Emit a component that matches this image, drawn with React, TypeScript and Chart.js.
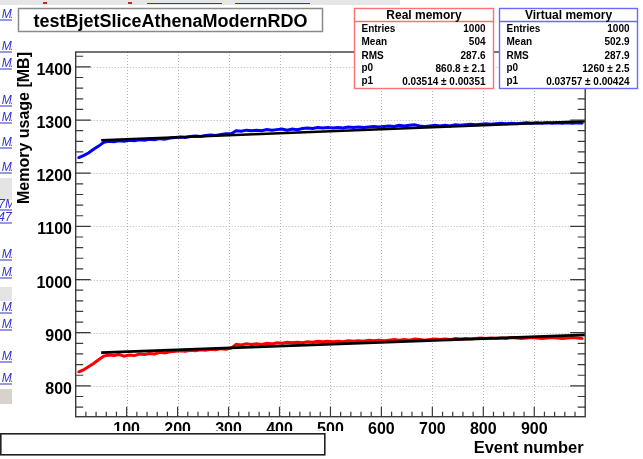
import React, { useEffect, useRef } from "react";
import { Chart, registerables } from "chart.js";

Chart.register(...registerables);

// ---------- data ----------
const eventNumbers = [
  5, 15, 25, 35, 45, 55, 65, 75, 85, 95,
  105, 115, 125, 135, 145, 155, 165, 175, 185, 195,
  205, 215, 225, 235, 245, 255, 265, 275, 285, 295,
  305, 315, 325, 335, 345, 355, 365, 375, 385, 395,
  405, 415, 425, 435, 445, 455, 465, 475, 485, 495,
  505, 515, 525, 535, 545, 555, 565, 575, 585, 595,
  605, 615, 625, 635, 645, 655, 665, 675, 685, 695,
  705, 715, 725, 735, 745, 755, 765, 775, 785, 795,
  805, 815, 825, 835, 845, 855, 865, 875, 885, 895,
  905, 915, 925, 935, 945, 955, 965, 975, 985, 995,
];

const virtualMemory = [
  1229, 1233, 1238, 1245, 1251, 1258, 1260, 1259, 1261, 1260,
  1262, 1261, 1263, 1262, 1264, 1263, 1265, 1264, 1266, 1267,
  1268, 1267, 1269, 1270, 1269, 1271, 1272, 1271, 1273, 1274,
  1274, 1280, 1279, 1281, 1280, 1281, 1280, 1282, 1281, 1282,
  1283, 1281, 1283, 1282, 1284, 1285, 1284, 1286, 1285, 1286,
  1285, 1286, 1285, 1287, 1286, 1287, 1286, 1287, 1288, 1287,
  1288, 1289, 1288, 1290, 1289, 1290, 1291, 1289, 1288, 1289,
  1290, 1289, 1290, 1289, 1291, 1290, 1291, 1292, 1291, 1292,
  1293, 1292, 1293, 1294, 1293, 1294, 1293, 1294, 1295, 1294,
  1295, 1294, 1295, 1294, 1295, 1294, 1295, 1294, 1295, 1294,
];

const realMemory = [
  826, 830, 836, 842, 849, 856, 858, 857, 859, 856,
  858, 857, 860, 859, 861, 860, 863, 862, 864, 865,
  866, 865, 867, 866, 868, 867, 869, 868, 870, 869,
  871, 878, 877, 879, 878, 879, 878, 880, 879, 881,
  880, 882, 881, 882, 881, 883, 882, 884, 883, 884,
  883, 884, 883, 885, 884, 885, 884, 886, 885, 886,
  885, 886, 887, 886, 887, 886, 888, 887, 886, 887,
  888, 887, 888, 887, 889, 888, 889, 888, 889, 890,
  889, 890, 889, 890, 889, 891, 890, 889, 890, 891,
  890, 889, 890, 891, 890, 889, 890, 891, 890, 889,
];

const fitEvents = [50, 1000];
const realFit = [862.6, 895.9];
const virtualFit = [1261.9, 1297.6];

const xTickLabels = [100, 200, 300, 400, 500, 600, 700, 800, 900];
const yTickLabels = [800, 900, 1000, 1100, 1200, 1300, 1400];

const chartTitle = "testBjetSliceAthenaModernRDO";
const yAxisTitle = "Memory usage [MB]";
const xAxisTitle = "Event number";

const realStatsTitle = "Real memory";
const realStatsNames = ["Entries", "Mean", "RMS", "p0", "p1"];
const realStatsValues = ["1000", "504", "287.6", "860.8 \u00b1 2.1", "0.03514 \u00b1 0.00351"];
const virtualStatsTitle = "Virtual memory";
const virtualStatsNames = ["Entries", "Mean", "RMS", "p0", "p1"];
const virtualStatsValues = ["1000", "502.9", "287.9", "1260 \u00b1 2.5", "0.03757 \u00b1 0.00424"];

// ---------- drawing ----------
const W = 643;
const H = 459;
const FONT = '"Liberation Sans", Arial, Helvetica, sans-serif';

const rootPlugin = {
  id: "rootStyle",
  beforeDraw(chart: any) {
    const ctx = chart.ctx as CanvasRenderingContext2D;
    ctx.save();
    ctx.fillStyle = "#ffffff";
    ctx.fillRect(0, 0, W, H);

    // top strip of the surrounding web page
    ctx.fillStyle = "#e6e6e6";
    ctx.fillRect(0, 0, 400, 5);
    ctx.fillStyle = "#cc2222";
    ctx.fillRect(43, 2, 4, 2);
    ctx.fillRect(128, 2, 4, 2);
    ctx.fillStyle = "#3333cc";
    ctx.fillRect(147, 3, 75, 1);
    ctx.fillRect(235, 3, 75, 1);

    // left column of the surrounding web page (cut off)
    ctx.beginPath();
    ctx.rect(0, 5, 12, 426);
    ctx.clip();
    ctx.fillStyle = "#e4e4e4";
    ctx.fillRect(0, 178, 12, 22);
    ctx.fillRect(0, 287, 12, 14);
    ctx.fillStyle = "#d6d3cc";
    ctx.fillRect(0, 389, 12, 15);
    const links: [number, string][] = [
      [18, "M/"], [50, "M/"], [67, "M/"], [104, "M/"], [121, "M/"],
      [146, "M/"], [171, "M/"], [208, "7M"], [221, "47I"], [258, "M/"],
      [276, "M/"], [311, "M/"], [328, "M/"], [360, "M/"], [382, "M/"],
    ];
    ctx.font = `italic 12px ${FONT}`;
    ctx.textAlign = "right";
    ctx.textBaseline = "alphabetic";
    for (const [y, t] of links) {
      ctx.fillStyle = "#3333cc";
      ctx.fillText(t, 15, y);
      ctx.fillRect(0, y + 1.5, 12, 1);
    }
    ctx.restore();
  },
  beforeDatasetsDraw(chart: any) {
    const ctx = chart.ctx as CanvasRenderingContext2D;
    const { left, right, top, bottom } = chart.chartArea;
    const xs = chart.scales.x;
    const ys = chart.scales.y;
    ctx.save();
    ctx.strokeStyle = "#b4b4b4";
    ctx.lineWidth = 1;
    ctx.setLineDash([1, 2]);
    for (const v of xTickLabels) {
      const px = Math.round(xs.getPixelForValue(v)) + 0.5;
      ctx.beginPath();
      ctx.moveTo(px, top);
      ctx.lineTo(px, bottom);
      ctx.stroke();
    }
    for (const v of yTickLabels) {
      const py = Math.round(ys.getPixelForValue(v)) + 0.5;
      ctx.beginPath();
      ctx.moveTo(left, py);
      ctx.lineTo(right, py);
      ctx.stroke();
    }
    ctx.restore();
  },
  afterDatasetsDraw(chart: any) {
    const ctx = chart.ctx as CanvasRenderingContext2D;
    const { left, right, top, bottom } = chart.chartArea;
    const xs = chart.scales.x;
    const ys = chart.scales.y;
    ctx.save();
    ctx.setLineDash([]);
    ctx.strokeStyle = "#3a3a3a";
    ctx.lineWidth = 1.4;
    ctx.strokeRect(left, top, right - left, bottom - top);

    // y ticks (left and right)
    ctx.lineWidth = 1.2;
    for (let v = 760; v <= 1420; v += 20) {
      const py = ys.getPixelForValue(v);
      const len = v % 100 === 0 ? 15 : 7.5;
      ctx.beginPath();
      ctx.moveTo(left, py);
      ctx.lineTo(left + len, py);
      ctx.moveTo(right, py);
      ctx.lineTo(right - len, py);
      ctx.stroke();
    }
    // x ticks (bottom)
    for (let v = 20; v < 1000; v += 20) {
      const px = xs.getPixelForValue(v);
      const len = v % 100 === 0 ? 10 : 5;
      ctx.beginPath();
      ctx.moveTo(px, bottom);
      ctx.lineTo(px, bottom - len);
      ctx.stroke();
    }

    // tick labels
    ctx.fillStyle = "#000";
    ctx.font = `bold 16px ${FONT}`;
    ctx.textBaseline = "alphabetic";
    ctx.textAlign = "right";
    for (const v of yTickLabels) {
      ctx.fillText(String(v), left - 3.7, ys.getPixelForValue(v) + 8);
    }
    ctx.textAlign = "center";
    for (const v of xTickLabels) {
      ctx.fillText(String(v), xs.getPixelForValue(v), bottom + 17);
    }

    // axis titles
    ctx.font = `bold 16.5px ${FONT}`;
    ctx.textAlign = "right";
    ctx.fillText(xAxisTitle, right - 1.5, 453);
    ctx.save();
    ctx.translate(29, 52);
    ctx.rotate(-Math.PI / 2);
    ctx.font = `bold 16px ${FONT}`;
    ctx.textAlign = "right";
    ctx.fillText(yAxisTitle, 0, 0);
    ctx.restore();
    ctx.restore();
  },
  afterDraw(chart: any) {
    const ctx = chart.ctx as CanvasRenderingContext2D;
    ctx.save();
    ctx.setLineDash([]);

    // title box
    ctx.fillStyle = "#fff";
    ctx.fillRect(18, 8, 305, 24);
    ctx.strokeStyle = "#8a8a8a";
    ctx.lineWidth = 1.5;
    ctx.strokeRect(18.5, 8.5, 304, 23);
    ctx.fillStyle = "#000";
    ctx.font = `bold 18px ${FONT}`;
    ctx.textAlign = "center";
    ctx.textBaseline = "alphabetic";
    ctx.fillText(chartTitle, 170.5, 26.5);

    const drawStats = (
      x0: number,
      x1: number,
      color: string,
      title: string,
      names: string[],
      values: string[]
    ) => {
      ctx.fillStyle = "#fff";
      ctx.fillRect(x0, 8, x1 - x0, 81);
      ctx.strokeStyle = color;
      ctx.lineWidth = 1.4;
      ctx.strokeRect(x0 + 0.5, 8.5, x1 - x0 - 1, 80);
      ctx.beginPath();
      ctx.moveTo(x0, 21.5);
      ctx.lineTo(x1, 21.5);
      ctx.stroke();
      ctx.fillStyle = "#000";
      ctx.font = `bold 12px ${FONT}`;
      ctx.textAlign = "center";
      ctx.textBaseline = "middle";
      ctx.fillText(title, (x0 + x1) / 2, 15.5);
      ctx.font = `bold 10px ${FONT}`;
      const rows = [29.5, 42.7, 55.8, 69, 82];
      names.forEach((n, i) => {
        ctx.textAlign = "left";
        ctx.fillText(n, x0 + 7.5, rows[i] - (n.startsWith("p") ? 1 : 0));
        ctx.textAlign = "right";
        ctx.fillText(values[i], x1 - 8.5, rows[i]);
      });
    };
    drawStats(354, 494, "#ff7070", realStatsTitle, realStatsNames, realStatsValues);
    drawStats(499, 638, "#6a6aff", virtualStatsTitle, virtualStatsNames, virtualStatsValues);

    // bottom part of surrounding web page (text input)
    ctx.fillStyle = "#fff";
    ctx.fillRect(0, 431, 356, 28);
    ctx.strokeStyle = "#222";
    ctx.lineWidth = 1.6;
    ctx.strokeRect(0.8, 433.8, 324, 21);
    ctx.restore();
  },
};

export default function App() {
  const canvasRef = useRef<HTMLCanvasElement | null>(null);

  useEffect(() => {
    document.body.style.margin = "0";
    const canvas = canvasRef.current;
    if (!canvas) return;
    const toPoints = (xs: number[], ys: number[]) => xs.map((x, i) => ({ x, y: ys[i] }));
    const chart = new Chart(canvas, {
      type: "line",
      data: {
        datasets: [
          {
            label: "Real memory fit",
            data: toPoints(fitEvents, realFit),
            borderColor: "#000",
            borderWidth: 2.6,
            pointRadius: 0,
            order: 0,
          },
          {
            label: "Virtual memory fit",
            data: toPoints(fitEvents, virtualFit),
            borderColor: "#000",
            borderWidth: 2.6,
            pointRadius: 0,
            order: 0,
          },
          {
            label: realStatsTitle,
            data: toPoints(eventNumbers, realMemory),
            borderColor: "#ff0000",
            backgroundColor: "#ff0000",
            borderWidth: 3,
            pointRadius: 1.2,
            pointStyle: "rect",
            pointBorderWidth: 0,
            tension: 0,
            order: 1,
          },
          {
            label: virtualStatsTitle,
            data: toPoints(eventNumbers, virtualMemory),
            borderColor: "#0000ff",
            backgroundColor: "#0000ff",
            borderWidth: 3,
            pointRadius: 1.2,
            pointStyle: "rect",
            pointBorderWidth: 0,
            tension: 0,
            order: 1,
          },
        ],
      },
      options: {
        responsive: false,
        animation: false,
        events: [],
        layout: { padding: { left: 75.7, right: 57.8, top: 52, bottom: 42.3 } },
        plugins: { legend: { display: false }, tooltip: { enabled: false }, title: { display: false } },
        scales: {
          x: { type: "linear", min: 0, max: 1000, display: false },
          y: { type: "linear", min: 742, max: 1428, display: false },
        },
      },
      plugins: [rootPlugin],
    });
    return () => chart.destroy();
  }, []);

  return (
    <div style={{ position: "absolute", left: 0, top: 0, width: W, height: H, background: "#fff" }}>
      <canvas ref={canvasRef} width={W} height={H} style={{ display: "block", width: W, height: H }} />
    </div>
  );
}
